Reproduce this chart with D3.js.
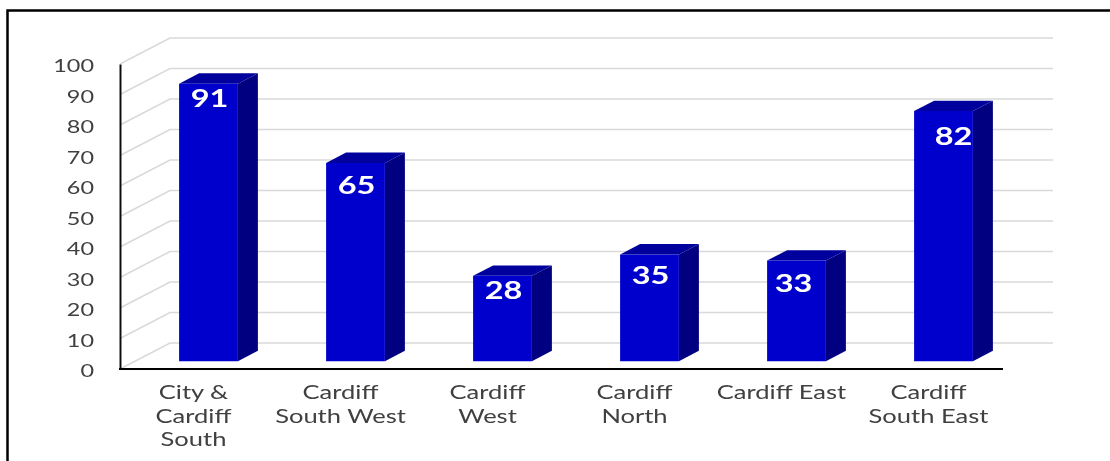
<!DOCTYPE html>
<html>
<head>
<meta charset="utf-8">
<script src="https://cdn.jsdelivr.net/npm/d3@7"></script>
<style>
  html, body { margin:0; padding:0; background:#fff; overflow:hidden; }
  svg { display:block; }
  text { font-family:Lato, "Open Sans", sans-serif; }
</style>
</head>
<body>
<div id="chart"></div>
<script>
// chart data
const categories = ['City & Cardiff South', 'Cardiff South West', 'Cardiff West', 'Cardiff North', 'Cardiff East', 'Cardiff South East'];
const values     = [91, 65, 28, 35, 33, 82];
const yTicks     = [0, 10, 20, 30, 40, 50, 60, 70, 80, 90, 100];
const labelLines = [['City &', 'Cardiff', 'South'], ['Cardiff', 'South West'], ['Cardiff', 'West'], ['Cardiff', 'North'], ['Cardiff East'], ['Cardiff', 'South East']];

const W = 1110, H = 461;
const svg = d3.select('#chart').append('svg').attr('width', W).attr('height', H);

// slight softening, the reference is a resampled image
svg.append('defs').append('filter').attr('id', 'soft')
  .append('feGaussianBlur').attr('stdDeviation', 0.45);

// outer frame (only top and left are inside the crop)
svg.append('path')
  .attr('d', 'M7.5,461V10.5H1110')
  .attr('fill', 'none').attr('stroke', '#000').attr('stroke-width', 2.5);

const x = d3.scaleBand().domain(categories).range([120, 1002]).paddingInner(0.6).paddingOuter(0.3);
const y = d3.scaleLinear().domain([0, 100]).range([369, 64]);

// floor projection: 0 = front of the box, 1 = back wall
const depthX = d3.scaleLinear().domain([0, 1]).range([0, 50]);
const depthY = d3.scaleLinear().domain([0, 1]).range([0, -26]);
const wallRight = 1053;

// ─── Gridlines ──────────────────────────────────
svg.append('g').selectAll('path')
  .data(yTicks)
  .join('path')
  .attr('d', d => `M120,${y(d)}L${120 + depthX(1)},${y(d) + depthY(1)}H${wallRight}`)
  .attr('fill', 'none').attr('stroke', '#d9d9d9').attr('stroke-width', 1.5);

// ─── Bars ───────────────────────────────────────
const rows = categories.map((c, i) => ({ c, v: values[i] }));
const f0 = 0.3, f1 = 0.7;
const bars = svg.append('g').attr('filter', 'url(#soft)').selectAll('g').data(rows).join('g');

function corner(d, side, val, f) {
  return [x(d.c) + side * x.bandwidth() + depthX(f), y(val) + depthY(f)];
}
function poly(points) { return 'M' + points.map(p => p.join(',')).join('L') + 'Z'; }

// side
bars.append('path').attr('fill', '#000080')
  .attr('d', d => poly([corner(d, 1, 0, f0), corner(d, 1, 0, f1), corner(d, 1, d.v, f1), corner(d, 1, d.v, f0)]));
// top
bars.append('path').attr('fill', '#00009c')
  .attr('d', d => poly([corner(d, 0, d.v, f0), corner(d, 0, d.v, f1), corner(d, 1, d.v, f1), corner(d, 1, d.v, f0)]));
// front
bars.append('path').attr('fill', '#0000cc')
  .attr('d', d => poly([corner(d, 0, 0, f0), corner(d, 0, d.v, f0), corner(d, 1, d.v, f0), corner(d, 1, 0, f0)]));

// data labels sit by hand in the original, so each has its own nudge
const nudge = [[1, 23], [1, 31], [1, 23], [1, 30], [-3, 31], [10, 34]];
bars.append('text')
  .attr('transform', (d, i) => {
    const [cx, cy] = corner(d, 0.5, d.v, f0);
    return `translate(${cx + nudge[i][0]},${cy + nudge[i][1]}) scale(1.3,1)`;
  })
  .attr('text-anchor', 'middle')
  .attr('font-size', 25).attr('font-weight', 700).attr('fill', '#fff')
  .text(d => d.v);

// ─── Axes ───────────────────────────────────────
const axes = svg.append('g').attr('filter', 'url(#soft)');

const yAxis = axes.append('g').attr('transform', 'translate(120,0)')
  .call(d3.axisLeft(y).tickValues(yTicks).tickSize(0));
yAxis.select('.domain').attr('stroke', '#111').attr('stroke-width', 2);
yAxis.selectAll('text')
  .attr('x', 0).attr('dy', null)
  .attr('transform', 'translate(-26,7.5) scale(1.3,1)')
  .attr('font-family', 'Lato').attr('font-size', 18).attr('fill', '#404040');

const xAxis = axes.append('g').attr('transform', 'translate(0,369)')
  .call(d3.axisBottom(x).tickSize(0).tickFormat(''));
xAxis.select('.domain').attr('stroke', '#000').attr('stroke-width', 2);

// extend domain to the last band edge
xAxis.select('.domain').attr('d', 'M119,0H1003');

xAxis.selectAll('.tick').each(function(d, i) {
  const t = d3.select(this);
  t.select('text').remove();
  labelLines[i].forEach((line, j) => {
    t.append('text')
      .attr('transform', `translate(0,${30 + j * 23.5}) scale(1.38,1)`)
      .attr('text-anchor', 'middle')
      .attr('font-family', 'Lato').attr('font-size', 18.5).attr('fill', '#404040')
      .text(line);
  });
});
</script>
</body>
</html>
